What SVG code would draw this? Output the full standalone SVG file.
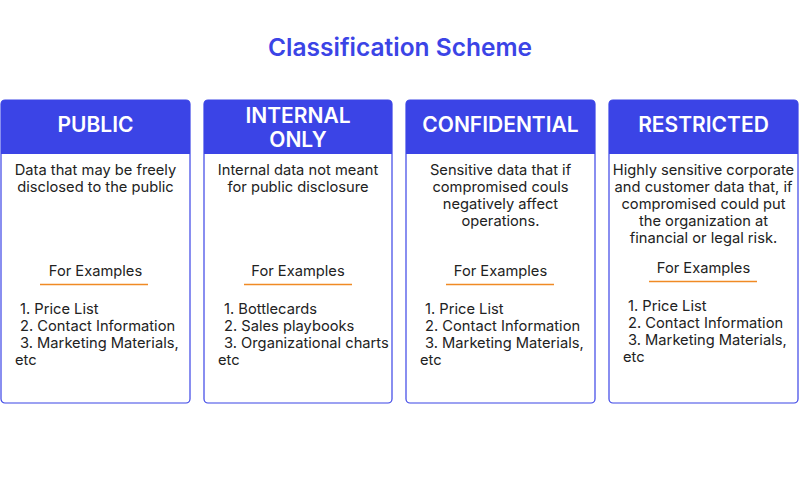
<svg xmlns="http://www.w3.org/2000/svg" width="800" height="480" viewBox="0 0 800 480">
<style>
.card{fill:#fff;stroke:#3b44e6;stroke-width:1.2}
.hd{fill:#3b44e6}
.ht{font-family:Inter,"Open Sans",sans-serif;font-size:21px;font-weight:600;fill:#fff;text-anchor:middle}
.t{font-family:Inter,"Open Sans",sans-serif;font-size:14.7px;fill:#222}
.c{text-anchor:middle}
.ul{stroke:#f08a24;stroke-width:1.5}
</style>
<rect width="800" height="480" fill="#fff"/>
<text x="400" y="56" style="font-family:Inter,'Open Sans',sans-serif;font-size:24.5px;font-weight:600;fill:#3b44e6" text-anchor="middle">Classification Scheme</text>
<g id="public">
<rect class="card" x="1" y="100" width="189" height="303" rx="4"/>
<path class="hd" d="M1,104a4,4 0 0 1 4,-4h181a4,4 0 0 1 4,4v50h-189z"/>
<text class="ht" x="95.5" y="132">PUBLIC</text>
<text class="t c" x="95.5" y="175">Data that may be freely</text>
<text class="t c" x="95.5" y="192">disclosed to the public</text>
<text class="t c" x="95.5" y="276">For Examples</text>
<line class="ul" x1="40" y1="284.5" x2="148" y2="284.5"/>
<text class="t" x="20" y="314">1. Price List</text>
<text class="t" x="20" y="331">2. Contact Information</text>
<text class="t" x="20" y="348">3. Marketing Materials,</text>
<text class="t" x="15" y="365">etc</text>
</g>
<g id="internal">
<rect class="card" x="204" y="100" width="188" height="303" rx="4"/>
<path class="hd" d="M204,104a4,4 0 0 1 4,-4h180a4,4 0 0 1 4,4v50h-188z"/>
<text class="ht" x="298" y="123">INTERNAL</text>
<text class="ht" x="298" y="147">ONLY</text>
<text class="t c" x="298" y="175">Internal data not meant</text>
<text class="t c" x="298" y="192">for public disclosure</text>
<text class="t c" x="298" y="276">For Examples</text>
<line class="ul" x1="244" y1="284.5" x2="352" y2="284.5"/>
<text class="t" x="224" y="314">1. Bottlecards</text>
<text class="t" x="224" y="331">2. Sales playbooks</text>
<text class="t" x="224" y="348">3. Organizational charts</text>
<text class="t" x="218" y="365">etc</text>
</g>
<g id="confidential">
<rect class="card" x="406" y="100" width="189" height="303" rx="4"/>
<path class="hd" d="M406,104a4,4 0 0 1 4,-4h181a4,4 0 0 1 4,4v50h-189z"/>
<text class="ht" x="500.5" y="132">CONFIDENTIAL</text>
<text class="t c" x="500.5" y="175">Sensitive data that if</text>
<text class="t c" x="500.5" y="192">compromised couls</text>
<text class="t c" x="500.5" y="209">negatively affect</text>
<text class="t c" x="500.5" y="226">operations.</text>
<text class="t c" x="500.5" y="276">For Examples</text>
<line class="ul" x1="446" y1="284.5" x2="554" y2="284.5"/>
<text class="t" x="425" y="314">1. Price List</text>
<text class="t" x="425" y="331">2. Contact Information</text>
<text class="t" x="425" y="348">3. Marketing Materials,</text>
<text class="t" x="420" y="365">etc</text>
</g>
<g id="restricted">
<rect class="card" x="609" y="100" width="189" height="303" rx="4"/>
<path class="hd" d="M609,104a4,4 0 0 1 4,-4h181a4,4 0 0 1 4,4v50h-189z"/>
<text class="ht" x="703.5" y="132">RESTRICTED</text>
<text class="t c" x="703.5" y="175">Highly sensitive corporate</text>
<text class="t c" x="703.5" y="192">and customer data that, if</text>
<text class="t c" x="703.5" y="209">compromised could put</text>
<text class="t c" x="703.5" y="226">the organization at</text>
<text class="t c" x="703.5" y="243">financial or legal risk.</text>
<text class="t c" x="703.5" y="273">For Examples</text>
<line class="ul" x1="649" y1="281.5" x2="757" y2="281.5"/>
<text class="t" x="628" y="311">1. Price List</text>
<text class="t" x="628" y="328">2. Contact Information</text>
<text class="t" x="628" y="345">3. Marketing Materials,</text>
<text class="t" x="623" y="362">etc</text>
</g>
<g id="connectors"></g>
</svg>
